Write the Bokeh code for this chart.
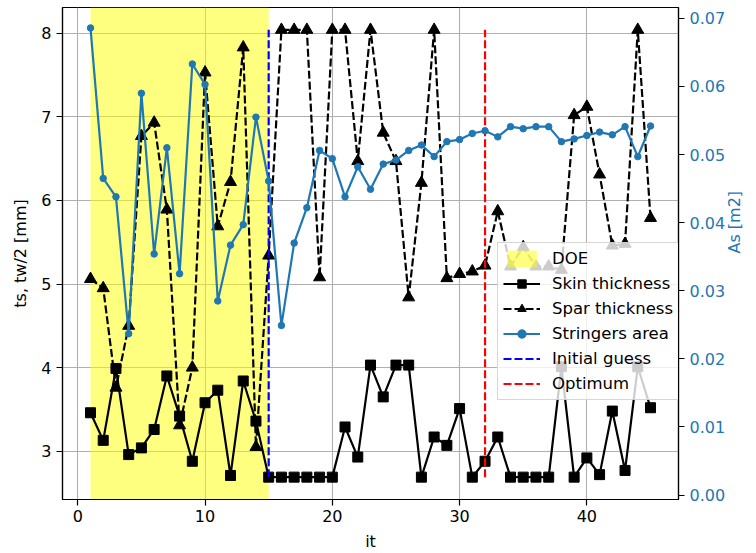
import math
from bokeh.plotting import figure
from bokeh.models import Range1d, LinearAxis, FixedTicker, Legend, LegendItem, NumeralTickFormatter
from bokeh.embed import file_html
from bokeh.resources import INLINE

# ---------------- data ----------------
it = list(range(1, 46))
skin = [3.46, 3.13, 3.99, 2.96, 3.04, 3.26, 3.90, 3.42, 2.88, 3.58,
        3.73, 2.71, 3.84, 3.36, 2.69, 2.69, 2.69, 2.69, 2.69, 2.69,
        3.29, 2.93, 4.03, 3.65, 4.03, 4.03, 2.69, 3.17, 3.07, 3.51,
        2.69, 2.88, 3.17, 2.69, 2.69, 2.69, 2.69, 4.01, 2.69, 2.92,
        2.72, 3.48, 2.77, 4.01, 3.52]
spar = [5.06, 4.95, 3.76, 4.50, 6.77, 6.93, 5.89, 3.31, 4.00, 7.53,
        5.69, 6.22, 7.83, 3.05, 5.34, 8.04, 8.04, 8.04, 5.08, 8.04,
        8.04, 6.47, 8.04, 6.81, 6.47, 4.84, 6.21, 8.04, 5.07, 5.12,
        5.15, 5.22, 5.87, 5.21, 5.44, 5.21, 5.21, 5.17, 7.02, 7.12,
        6.31, 5.46, 5.48, 8.04, 5.79]
stringers = [0.0686, 0.0465, 0.0438, 0.0237, 0.0590, 0.0354, 0.0510, 0.0325, 0.0633, 0.0603,
             0.0285, 0.0367, 0.0397, 0.0555, 0.0461, 0.0249, 0.0370, 0.0422, 0.0506, 0.0494,
             0.0438, 0.0482, 0.0449, 0.0486, 0.0492, 0.0506, 0.0514, 0.0497, 0.0519, 0.0522,
             0.0531, 0.0535, 0.0526, 0.0541, 0.0538, 0.0541, 0.0541, 0.0519, 0.0523, 0.0528,
             0.0533, 0.0529, 0.0541, 0.0497, 0.0542]
doe_span = [1, 15]
initial_guess_it = 15
optimum_it = 32

x_ticks = [0, 10, 20, 30, 40]
y_ticks = [3, 4, 5, 6, 7, 8]
as_ticks = [0.00, 0.01, 0.02, 0.03, 0.04, 0.05, 0.06, 0.07]
as_limits = (-0.00066, 0.0716)

# ---------------- ranges ----------------
def padded(lo, hi, m=0.05):
    d = hi - lo
    return lo - m * d, hi + m * d

xlo, xhi = padded(min(it), max(it))
ymin_data = min(skin + spar)
ymax_data = max(skin + spar)
ylo, yhi = padded(ymin_data, ymax_data)

FONT = "DejaVu Sans"
FS = "16px"
C0 = "#1f77b4"
TXT = "black"

p = figure(width=756, height=553, output_backend="svg", toolbar_location=None,
           x_range=Range1d(xlo, xhi), y_range=Range1d(ylo, yhi),
           min_border_left=62, min_border_right=73, min_border_top=7, min_border_bottom=52)
p.extra_y_ranges = {"as": Range1d(*as_limits)}

p.outline_line_color = "black"
p.outline_line_width = 1.2
p.outline_line_alpha = 1

# axes
for ax in (p.xaxis[0], p.yaxis[0]):
    ax.major_label_text_font = FONT
    ax.major_label_text_font_size = FS
    ax.axis_label_text_font = FONT
    ax.axis_label_text_font_size = FS
    ax.axis_label_text_font_style = "normal"
    ax.minor_tick_line_color = None
    ax.major_tick_in = 0
    ax.major_tick_out = 6
    ax.major_tick_line_width = 1.2
    ax.axis_line_color = "black"
    ax.axis_line_width = 1.2
    ax.major_label_text_color = TXT
    ax.axis_label_text_color = TXT

p.xaxis[0].ticker = FixedTicker(ticks=x_ticks)
p.yaxis[0].ticker = FixedTicker(ticks=y_ticks)
p.xaxis[0].axis_label = "it"
p.yaxis[0].axis_label = "ts, tw/2 [mm]"
p.xaxis[0].major_label_standoff = 4
p.xaxis[0].axis_label_standoff = 7
p.yaxis[0].major_label_standoff = 5
p.yaxis[0].axis_label_standoff = 8

p.xgrid.ticker = FixedTicker(ticks=x_ticks)
p.ygrid.ticker = FixedTicker(ticks=y_ticks)
for g in (p.xgrid[0], p.ygrid[0]):
    g.grid_line_color = "#b0b0b0"
    g.grid_line_width = 1.1

ax2 = LinearAxis(y_range_name="as", axis_label="As [m2]",
                 ticker=FixedTicker(ticks=as_ticks),
                 formatter=NumeralTickFormatter(format="0.00"))
ax2.major_label_text_font = FONT
ax2.major_label_text_font_size = FS
ax2.axis_label_text_font = FONT
ax2.axis_label_text_font_size = FS
ax2.axis_label_text_font_style = "normal"
ax2.major_label_text_color = C0
ax2.axis_label_text_color = C0
ax2.minor_tick_line_color = None
ax2.major_tick_in = 0
ax2.major_tick_out = 6
ax2.major_tick_line_width = 1.2
ax2.axis_line_color = "black"
ax2.axis_line_width = 1.2
ax2.major_label_standoff = 5
ax2.axis_label_standoff = 6
try:
    ax2.axis_label_orientation = math.pi / 2
except Exception:
    pass
p.add_layout(ax2, "right")

# ---------------- glyphs ----------------
doe = p.quad(left=[doe_span[0]], right=[doe_span[1]], bottom=[ylo], top=[yhi],
             fill_color="yellow", fill_alpha=0.5, line_color=None)

DASH = "8 3"
skin_l = p.line(it, skin, line_color="black", line_width=2.2)
skin_m = p.scatter(it, skin, marker="square", size=10, fill_color="black", line_color="black")
spar_l = p.line(it, spar, line_color="black", line_width=2.2, line_dash=DASH)
spar_m = p.scatter(it, spar, marker="triangle", size=12, fill_color="black", line_color="black")

ig = p.line([initial_guess_it, initial_guess_it], [min(skin), max(spar)],
            line_color="blue", line_width=2.2, line_dash=DASH)
op = p.line([optimum_it, optimum_it], [min(skin), max(spar)],
            line_color="red", line_width=2.2, line_dash=DASH)

st_l = p.line(it, stringers, line_color=C0, line_width=2.2, y_range_name="as")
st_m = p.scatter(it, stringers, marker="circle", size=6.5, fill_color=C0, line_color=C0,
                 y_range_name="as")

legend = Legend(items=[
    LegendItem(label="DOE", renderers=[doe]),
    LegendItem(label="Skin thickness", renderers=[skin_l, skin_m]),
    LegendItem(label="Spar thickness", renderers=[spar_l, spar_m]),
    LegendItem(label="Stringers area", renderers=[st_l, st_m]),
    LegendItem(label="Initial guess", renderers=[ig]),
    LegendItem(label="Optimum", renderers=[op]),
], location=(435, 99))
legend.label_text_font = FONT
legend.label_text_font_size = "16.5px"
legend.label_text_color = TXT
legend.glyph_width = 37
legend.glyph_height = 21
legend.label_height = 21
legend.spacing = 4
legend.padding = 5
legend.margin = 0
legend.label_standoff = 12
legend.border_line_color = "#cccccc"
legend.border_line_alpha = 0.8
legend.background_fill_alpha = 0.8
p.add_layout(legend)

open("out.html", "w").write(file_html(p, INLINE))
